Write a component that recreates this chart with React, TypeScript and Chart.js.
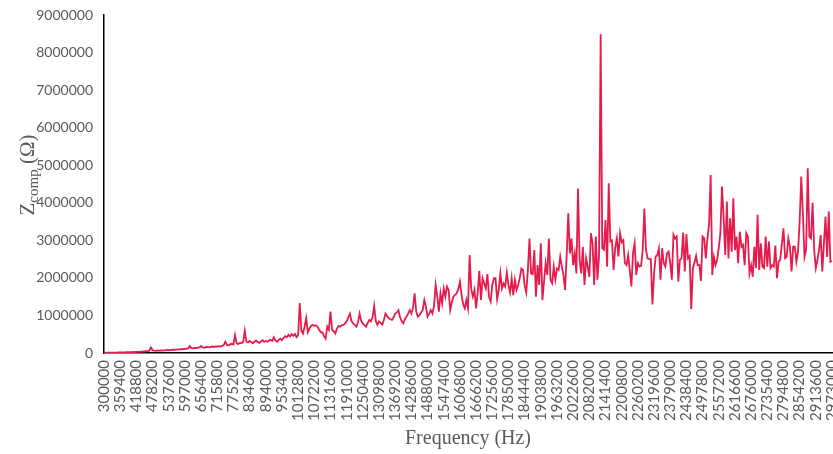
import React, { useEffect, useRef } from "react";
import { Chart, registerables } from "chart.js";

Chart.register(...registerables);

// Sweep definition: 451 points from 300 kHz in 5940 Hz steps
const START_HZ = 300000;
const STEP_HZ = 5940;
const LABEL_EVERY = 10;

// Compensated impedance, ohms — low band (indices 0-119)
const zLowBand = [
  5000, 6000, 8000, 7000, 9000, 10000, 9000, 12000, 11000, 14000,
  13000, 16000, 18000, 17000, 20000, 22000, 21000, 25000, 27000, 26000,
  30000, 33000, 31000, 38000, 42000, 40000, 47000, 52000, 60000, 150000,
  75000, 62000, 58000, 66000, 61000, 70000, 64000, 72000, 69000, 80000,
  74000, 85000, 78000, 92000, 86000, 95000, 88000, 105000, 98000, 110000,
  102000, 118000, 125000, 186000, 130000, 122000, 135000, 128000, 142000, 150000,
  186000, 148000, 140000, 155000, 160000, 150000, 165000, 172000, 160000, 175000,
  168000, 180000, 172000, 190000, 210000, 300000, 215000, 205000, 230000, 245000,
  225000, 480000, 255000, 240000, 270000, 258000, 290000, 586000, 300000, 280000,
  320000, 290000, 260000, 300000, 335000, 290000, 270000, 310000, 340000, 295000,
  320000, 300000, 330000, 350000, 320000, 417000, 330000, 300000, 350000, 380000,
  340000, 400000, 450000, 420000, 480000, 440000, 500000, 460000, 510000, 420000,
];

// Mid band (indices 120-299)
const zMidBand = [
  470000, 1330000, 600000, 520000, 700000, 930000, 550000, 650000, 720000, 750000,
  720000, 740000, 700000, 620000, 550000, 550000, 450000, 380000, 700000, 620000,
  1100000, 610000, 580000, 520000, 650000, 720000, 700000, 740000, 750000, 790000,
  850000, 950000, 1050000, 850000, 790000, 750000, 700000, 820000, 1050000, 850000,
  790000, 740000, 700000, 800000, 880000, 840000, 950000, 1250000, 850000, 750000,
  840000, 800000, 750000, 880000, 1050000, 980000, 930000, 900000, 880000, 950000,
  1050000, 1080000, 1140000, 950000, 850000, 790000, 900000, 970000, 1050000, 1140000,
  1050000, 1200000, 1590000, 1100000, 970000, 1010000, 1080000, 1140000, 1410000, 1230000,
  970000, 1050000, 1140000, 1050000, 1250000, 1810000, 1500000, 1100000, 1590000, 1320000,
  1720000, 1500000, 1770000, 1680000, 1140000, 1350000, 1500000, 1550000, 1590000, 1700000,
  1900000, 1550000, 1300000, 1190000, 1410000, 1190000, 2610000, 1700000, 1500000, 1680000,
  1190000, 1600000, 2190000, 1410000, 1990000, 1850000, 1720000, 2100000, 1500000, 1370000,
  1800000, 1990000, 1990000, 1430000, 1680000, 2120000, 1720000, 1850000, 1770000, 2140000,
  1800000, 1610000, 1990000, 1540000, 1950000, 1680000, 1810000, 2000000, 2250000, 2210000,
  1800000, 1610000, 2200000, 3050000, 2120000, 2100000, 2740000, 1500000, 2340000, 1810000,
  2920000, 1410000, 1900000, 2390000, 2080000, 3050000, 1950000, 1860000, 2300000, 1950000,
  2250000, 2210000, 2560000, 2300000, 2080000, 1680000, 2600000, 3720000, 2650000, 3050000,
  2340000, 2650000, 2120000, 4380000, 2480000, 2120000, 2830000, 1810000, 2520000, 2300000,
];

// High band (indices 300-450)
const zHighBand = [
  2030000, 3190000, 2920000, 1810000, 3100000, 1950000, 2600000, 8490000, 2790000, 2750000,
  3540000, 2300000, 4520000, 2970000, 3000000, 2210000, 2800000, 3050000, 2570000, 3190000,
  2950000, 3000000, 2390000, 2340000, 2610000, 2200000, 1770000, 2660000, 2920000, 2080000,
  2390000, 2300000, 2320000, 2750000, 3850000, 2750000, 2520000, 2500000, 2500000, 1290000,
  2100000, 2570000, 2600000, 2790000, 1950000, 2790000, 2390000, 2300000, 2650000, 2700000,
  2400000, 1950000, 3150000, 3050000, 3100000, 1900000, 2480000, 2520000, 3210000, 2170000,
  3170000, 2520000, 2580000, 1170000, 2260000, 2400000, 2590000, 2340000, 2340000, 1920000,
  3100000, 3050000, 2520000, 3050000, 3410000, 4740000, 2080000, 2560000, 2340000, 2480000,
  2800000, 3190000, 4430000, 3630000, 2610000, 4030000, 2520000, 3590000, 2700000, 4120000,
  2740000, 3100000, 2390000, 3230000, 2830000, 2880000, 2340000, 3190000, 3100000, 2120000,
  2340000, 2030000, 2830000, 2260000, 3680000, 2210000, 2920000, 2300000, 2260000, 3100000,
  2300000, 2970000, 2260000, 2340000, 2300000, 2860000, 1990000, 2430000, 2480000, 2900000,
  3320000, 2520000, 2560000, 3050000, 2830000, 2170000, 2830000, 2830000, 2430000, 2700000,
  3500000, 4700000, 3720000, 2560000, 2760000, 4920000, 3100000, 3050000, 4000000, 2740000,
  2260000, 2480000, 2740000, 3140000, 2170000, 2920000, 3630000, 2560000, 3770000, 2430000,
  2450000,
];

// Frequency labels printed under every tenth sample
const xTickLabels = [
  "300000", "359400", "418800", "478200", "537600", "597000", "656400", "715800",
  "775200", "834600", "894000", "953400", "1012800", "1072200", "1131600", "1191000",
  "1250400", "1309800", "1369200", "1428600", "1488000", "1547400", "1606800", "1666200",
  "1725600", "1785000", "1844400", "1903800", "1963200", "2022600", "2082000", "2141400",
  "2200800", "2260200", "2319600", "2379000", "2438400", "2497800", "2557200", "2616600",
  "2676000", "2735400", "2794800", "2854200", "2913600", "2973000",
];

const Y_MIN = 0;
const Y_MAX = 9000000;
const Y_STEP = 1000000;

const impedance = [...zLowBand, ...zMidBand, ...zHighBand];
const frequencies = impedance.map((_, i) => String(START_HZ + i * STEP_HZ));

const LINE_COLOR = "rgb(229, 27, 76)";
const TICK_COLOR = "#595959";
const TITLE_COLOR = "#595959";
const TICK_FONT = { family: "Lato, 'Open Sans', sans-serif", size: 14 };
const X_TICK_FONT = { family: "Lato, 'Open Sans', sans-serif", size: 15 };
const SERIF = "'Liberation Serif', 'Times New Roman', serif";

// Axis titles drawn by hand so the y title can carry a subscript
const axisTitles = {
  id: "axisTitles",
  afterDraw(chart: any) {
    const { ctx, chartArea } = chart;
    ctx.save();
    ctx.fillStyle = TITLE_COLOR;
    ctx.textBaseline = "alphabetic";

    ctx.font = `20px ${SERIF}`;
    ctx.textAlign = "center";
    ctx.fillText("Frequency (Hz)", (chartArea.left + chartArea.right) / 2, 444);

    const big = `21px ${SERIF}`;
    const small = `15px ${SERIF}`;
    ctx.font = big;
    const wZ = ctx.measureText("Z").width;
    const wTail = ctx.measureText(" (Ω)").width;
    ctx.font = small;
    const wSub = ctx.measureText("comp").width;
    const total = wZ + wSub + wTail;

    ctx.translate(34, 175);
    ctx.rotate(-Math.PI / 2);
    ctx.textAlign = "left";
    let x = -total / 2;
    ctx.font = big;
    ctx.fillText("Z", x, 0);
    x += wZ;
    ctx.font = small;
    ctx.fillText("comp", x, 4);
    x += wSub;
    ctx.font = big;
    ctx.fillText(" (Ω)", x, 0);
    ctx.restore();
  },
};

export default function App() {
  const canvasRef = useRef<HTMLCanvasElement | null>(null);

  useEffect(() => {
    if (!canvasRef.current) return;
    const chart = new Chart(canvasRef.current, {
      type: "line",
      data: {
        labels: frequencies,
        datasets: [
          {
            data: impedance,
            borderColor: LINE_COLOR,
            backgroundColor: LINE_COLOR,
            borderWidth: 1.8,
            pointRadius: 0,
            tension: 0,
            fill: false,
          },
        ],
      },
      options: {
        animation: false,
        responsive: false,
        maintainAspectRatio: false,
        devicePixelRatio: 1,
        layout: { padding: { top: 15, right: 1, left: 0, bottom: 0 } },
        plugins: {
          legend: { display: false },
          tooltip: { enabled: false },
        },
        scales: {
          x: {
            type: "category",
            offset: false,
            grid: { display: false, drawTicks: false },
            border: { display: true, color: "#000", width: 1.5 },
            ticks: {
              autoSkip: false,
              minRotation: 90,
              maxRotation: 90,
              padding: 7,
              color: TICK_COLOR,
              font: X_TICK_FONT,
              callback: (_v: any, i: number) =>
                i % LABEL_EVERY === 0 ? xTickLabels[i / LABEL_EVERY] : "",
            },
            afterFit: (s: any) => {
              s.height = 101;
              s.paddingLeft = 0;
              s.paddingRight = 0;
            },
          },
          y: {
            min: Y_MIN,
            max: Y_MAX,
            grid: { display: false, drawTicks: false },
            border: { display: true, color: "#000", width: 1.5 },
            ticks: {
              stepSize: Y_STEP,
              padding: 11,
              color: TICK_COLOR,
              font: TICK_FONT,
              callback: (v: any) => String(v),
            },
            afterFit: (s: any) => {
              s.width = 104;
              s.paddingTop = 0;
              s.paddingBottom = 0;
            },
          },
        },
      },
      plugins: [axisTitles],
    });
    return () => chart.destroy();
  }, []);

  return (
    <div style={{ position: "absolute", left: 0, top: 0, width: 833, height: 454, background: "#fff" }}>
      <canvas ref={canvasRef} width={833} height={454} />
    </div>
  );
}
